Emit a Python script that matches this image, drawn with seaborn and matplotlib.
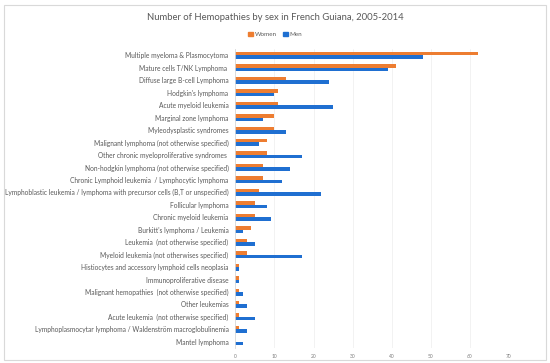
import matplotlib
matplotlib.use('Agg')

import matplotlib.pyplot as plt
from matplotlib.patches import Rectangle
import seaborn as sns
import pandas as pd

categories = [
    'Multiple myeloma & Plasmocytoma',
    'Mature cells T/NK Lymphoma ',
    'Diffuse large B-cell Lymphoma',
    "Hodgkin's lymphoma",
    'Acute myeloid leukemia',
    'Marginal zone lymphoma',
    'Myleodysplastic syndromes',
    'Malignant lymphoma (not otherwise specified)',
    'Other chronic myeloproliferative syndromes ',
    'Non-hodgkin lymphoma (not otherwise specified)',
    'Chronic Lymphoid leukemia  / Lymphocytic lymphoma',
    'Lymphoblastic leukemia / lymphoma with precursor cells (B,T or unspecified)',
    'Follicular lymphoma',
    'Chronic myeloid leukemia',
    "Burkitt's lymphoma / Leukemia",
    'Leukemia  (not otherwise specified)',
    'Myeloid leukemia (not otherwises specified)',
    'Histiocytes and accessory lymphoid cells neoplasia',
    'Immunoproliferative disease',
    'Malignant hemopathies  (not otherwise specified)',
    'Other leukemias',
    'Acute leukemia  (not otherwise specified)',
    'Lymphoplasmocytar lymphoma / Waldenström macroglobulinemia',
    'Mantel lymphoma',
]
women = [62, 41, 13, 11, 11, 10, 10, 8, 8, 7, 7, 6, 5, 5, 4, 3, 3, 1, 1, 1, 1, 1, 1, 0]
men = [48, 39, 24, 10, 25, 7, 13, 6, 17, 14, 12, 22, 8, 9, 2, 5, 17, 1, 1, 2, 3, 5, 3, 2]
x_ticks = [0, 10, 20, 30, 40, 50, 60, 70]

df = pd.DataFrame({
    'category': categories * 2,
    'sex': ['Women'] * len(categories) + ['Men'] * len(categories),
    'count': women + men,
})

sns.set_theme(style='white')
plt.rcParams['font.family'] = ['Lato', 'DejaVu Sans']

ORANGE, BLUE = '#ED7D31', '#1F6FD1'

fig = plt.figure(figsize=(5.5, 3.63), dpi=100)
# light frame round the whole chart
fig.patches.append(Rectangle((0.008, 0.008), 0.984, 0.978, transform=fig.transFigure,
                             fill=False, edgecolor='#d9d9d9', linewidth=0.8))
ax = fig.add_axes([0.428, 0.041, 0.497, 0.824])

sns.barplot(data=df, y='category', x='count', hue='sex', orient='h',
            palette={'Women': ORANGE, 'Men': BLUE}, width=0.56, saturation=1,
            linewidth=0, order=categories, hue_order=['Women', 'Men'], ax=ax, legend=False)

ax.set_xlim(0, 70)
ax.set_xticks(x_ticks)
ax.tick_params(axis='x', labelsize=3.5, colors='#7f7f7f', length=0, pad=4)
ax.tick_params(axis='y', labelsize=4.8, colors='#595959', length=0, pad=5)
ax.set_xlabel('')
ax.set_ylabel('')
ax.grid(True, axis='x', color='#f0f0f0', linewidth=0.6)
ax.set_axisbelow(True)
for side in ['top', 'right', 'bottom']:
    ax.spines[side].set_visible(False)
ax.spines['left'].set_color('#d9d9d9')
ax.spines['left'].set_linewidth(0.6)

fig.text(0.50, 0.953, 'Number of Hemopathies by sex in French Guiana, 2005-2014',
         ha='center', va='center', fontsize=6.8, color='#595959')

handles = [Rectangle((0, 0), 1, 1, color=ORANGE), Rectangle((0, 0), 1, 1, color=BLUE)]
fig.legend(handles, ['Women', 'Men'], loc='center', bbox_to_anchor=(0.5, 0.905), ncol=2,
           frameon=False, fontsize=4.5, handlelength=0.8, handleheight=0.8,
           handletextpad=0.3, columnspacing=1.0, labelcolor='#595959')

fig.savefig('out.png', dpi=100)
